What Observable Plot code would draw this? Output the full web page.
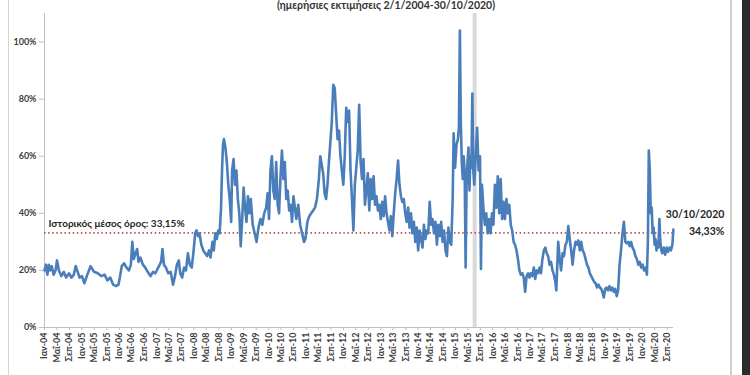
<!DOCTYPE html>
<html>
<head>
<meta charset="utf-8">
<script src="https://cdn.jsdelivr.net/npm/d3@7"></script>
<script src="https://cdn.jsdelivr.net/npm/@observablehq/plot@0.6"></script>
<style>
  html, body { margin: 0; padding: 0; background: #fff; }
  body { width: 750px; height: 375px; overflow: hidden; position: relative; font-family: Lato, "Open Sans", sans-serif; }
  #title { position: absolute; top: -1px; left: 11px; width: 750px; text-align: center; font-size: 10.5px; line-height: 12px; font-weight: bold; color: #333; }
  #chart { position: absolute; top: 0; left: 0; }
  .edge-l { position: absolute; left: 8px; top: 0; width: 1px; height: 375px; background: #d4d4d4; }
  .edge-r { position: absolute; left: 730px; top: 0; width: 2px; height: 375px; background: #cfcfcf; }
  .edge-dark { position: absolute; left: 742px; top: 0; width: 8px; height: 375px; background: #2b2b2b; }
</style>
</head>
<body>
<div id="title">(ημερήσιες εκτιμήσεις 2/1/2004-30/10/2020)</div>
<div id="chart"></div>
<div class="edge-l"></div><div class="edge-r"></div><div class="edge-dark"></div>
<script>
// decimal-year time stamps and daily volatility estimates (%)
const years = [
2004.000,2004.039,2004.077,2004.116,2004.154,2004.193,2004.244,2004.295,2004.334,2004.385,2004.449,2004.513,2004.578,2004.655,2004.719,2004.783,2004.834,2004.886,2004.937,
2005.001,2005.065,2005.130,2005.232,2005.322,2005.425,2005.515,2005.605,2005.682,2005.759,2005.836,2005.913,2005.977,
2006.015,2006.067,2006.131,2006.195,2006.259,2006.311,2006.349,2006.388,2006.439,2006.478,2006.516,2006.567,2006.632,2006.696,2006.760,2006.837,2006.901,2006.965,
2007.042,2007.119,2007.158,2007.196,2007.248,2007.312,2007.376,2007.440,2007.492,2007.543,2007.594,2007.633,2007.684,2007.736,2007.787,2007.838,2007.890,2007.941,2007.992,
2008.031,2008.069,2008.108,2008.146,2008.198,2008.249,2008.300,2008.352,2008.403,2008.442,2008.493,2008.531,2008.570,2008.609,2008.647,2008.686,2008.724,2008.750,2008.776,2008.801,2008.840,2008.878,2008.917,2008.955,2008.994,
2009.019,2009.058,2009.096,2009.135,2009.173,2009.212,2009.250,2009.289,2009.327,2009.366,2009.404,2009.443,2009.481,2009.520,2009.571,2009.623,2009.674,2009.725,2009.777,2009.828,2009.879,2009.931,2009.969,
2010.008,2010.046,2010.085,2010.123,2010.162,2010.200,2010.239,2010.277,2010.316,2010.354,2010.393,2010.431,2010.470,2010.508,2010.547,2010.585,2010.624,2010.662,2010.701,2010.739,2010.791,2010.842,2010.893,2010.945,2010.983,
2011.035,2011.086,2011.137,2011.189,2011.240,2011.291,2011.343,2011.381,2011.420,2011.458,2011.497,2011.535,2011.574,2011.612,2011.651,2011.689,2011.728,2011.767,2011.805,2011.844,2011.882,2011.921,2011.959,2011.998,
2012.036,2012.075,2012.113,2012.152,2012.190,2012.229,2012.267,2012.306,2012.344,2012.383,2012.421,2012.460,2012.498,2012.537,2012.575,2012.614,2012.652,2012.691,2012.729,2012.768,2012.806,2012.845,2012.883,2012.922,2012.960,2012.999,
2013.037,2013.076,2013.114,2013.153,2013.191,2013.230,2013.268,2013.307,2013.345,2013.384,2013.422,2013.461,2013.499,2013.538,2013.576,2013.615,2013.654,2013.692,2013.731,2013.769,2013.808,2013.846,2013.885,2013.923,2013.962,
2014.000,2014.039,2014.077,2014.116,2014.154,2014.193,2014.231,2014.270,2014.308,2014.347,2014.385,2014.424,2014.462,2014.501,2014.539,2014.578,2014.616,2014.655,2014.693,2014.732,2014.770,2014.809,2014.847,2014.886,2014.924,2014.950,2014.988,
2015.027,2015.065,2015.091,2015.117,2015.142,2015.168,2015.194,2015.219,2015.245,2015.271,2015.296,2015.322,2015.348,2015.374,2015.399,2015.425,2015.451,2015.476,2015.502,2015.579,2015.618,2015.656,2015.682,2015.708,2015.746,2015.785,2015.823,2015.862,2015.900,2015.939,2015.977,
2016.016,2016.054,2016.093,2016.131,2016.170,2016.208,2016.247,2016.285,2016.324,2016.362,2016.401,2016.439,2016.478,2016.516,2016.555,2016.593,2016.632,2016.670,2016.709,2016.747,2016.786,2016.824,2016.863,2016.901,2016.940,2016.978,
2017.017,2017.055,2017.094,2017.132,2017.171,2017.209,2017.248,2017.286,2017.325,2017.363,2017.402,2017.440,2017.479,2017.517,2017.556,2017.594,2017.633,2017.671,2017.697,2017.723,2017.748,2017.787,2017.825,2017.864,2017.902,2017.941,2017.979,
2018.018,2018.056,2018.095,2018.133,2018.172,2018.210,2018.249,2018.287,2018.326,2018.364,2018.403,2018.441,2018.480,2018.518,2018.557,2018.595,2018.634,2018.672,2018.711,2018.749,2018.788,2018.826,2018.865,2018.903,2018.942,2018.968,
2019.006,2019.045,2019.083,2019.122,2019.160,2019.199,2019.237,2019.276,2019.314,2019.353,2019.391,2019.430,2019.469,2019.507,2019.546,2019.584,2019.623,2019.661,2019.700,2019.738,2019.777,2019.815,2019.854,2019.892,2019.931,2019.969,
2020.008,2020.046,2020.085,2020.123,2020.149,2020.174,2020.200,2020.226,2020.251,2020.277,2020.303,2020.328,2020.354,2020.380,2020.405,2020.431,2020.457,2020.482,2020.508,2020.534,2020.572,2020.611,2020.650,2020.688,2020.727,2020.765,2020.804,2020.830
];
const vol = [
20,22,18.5,22,20,21.5,18.5,20,23.5,20,18,19.5,17.5,19,17.5,18.5,21.5,19.5,17.5,
18,15.5,18,21.5,19.5,19,18,18.5,16.5,17.5,15,14.5,15,
17.5,21.5,22.5,21,20,22,30,24,26,27.5,23,24.5,22,21,19.5,18,19.5,19,
21,23,27.5,22,21,19,19.5,15,18,22,23.5,19,17.5,21,20,26,22,21,27,
33,34,32,33,29,27,26,25,27,24.5,30,27,33,31,34,33,42,55,64,66,63,58,50,45,37,
55,59,50,55,45,40,28.5,38,49,42,37,46,40,45,36,33,30,35,38,36,40,42,47,
38,55,60,48,45,58,43,40,53,62,52,58,45,48,41,43,37,46,42,38,43,36,33,30,31,
37,39,40,41,42,45,52,60,57,54,47,45,50,58,65,72,85,84,75,66,69,60,55,50,
60,77,72,76,55,45,34,50,56,62,78,58,52,59,43,48,54,41,52,45,53,43,46,41,43,38,
44,39,46,40,37,34,39,32,40,47,52,58.5,50,46,44,45,40,37,42,35,40,33,37,30,35,
27,34,31,28,36,31,34,33,44,36,38,33,37,29,36,32,37,30,34,27,25,35,30,29,45,68,56,
64,66,70,104,72,58,52,60,55,21,50,58,63,48,60,56,82,55,50,70,55,60,20.5,50,42,36,40,33,38,33,40,
36,50,42,53,40,52,38,44,38,45,40,43,36,34,30,29,27,24,20,18.5,19,17.5,12.5,18,19,17.5,
19,18,21,17,20,19,21,19,24,27,28,26,25,22,23,20,18.5,16,13,22,30,24,20,26,25,29,30,
35.5,31,27,22,27,30,29,30.5,27,30,27,26,24,22,21,19,18,17,16,15.5,14,15,14,13.5,12,10.5,
13.5,14,13,14.5,13,14,12.5,13.5,11,13,22,27,33,37,30,29.5,30,28.5,30,28,27,25,24,22,23,21,
22,20,21,18.5,30,62,55,40,42,33,35,29,31,27,30,28,38,30,27,26,28,25.5,28,26.5,28,27,29,34.33
];
const averageValue = [33.15];
const averageLabel = "Ιστορικός μέσος όρος: 33,15%";
const lastLabelDate = "30/10/2020";
const lastLabelValue = "34,33%";
const closureMarker = [2015.513];   // stock exchange closure (summer 2015)
const monthNames = ["Ιαν","Φεβ","Μαρ","Απρ","Μαΐ","Ιουν","Ιουλ","Αυγ","Σεπ","Οκτ","Νοε","Δεκ"];
const yTicks = [0, 20, 40, 60, 80, 100];

function decToDate(y) {
  const yr = Math.floor(y);
  const s = Date.UTC(yr, 0, 1), e = Date.UTC(yr + 1, 0, 1);
  return new Date(s + (y - yr) * (e - s));
}
const data = years.map((y, i) => ({date: decToDate(y), v: vol[i] / 100}));
const xStart = new Date(Date.UTC(2004, 0, 1));
const xEnd = new Date(Date.UTC(2020, 10, 1));
const xTicks = d3.utcMonth.every(4).range(xStart, new Date(Date.UTC(2020, 9, 1)));
const last = data[data.length - 1];
const fmtX = d => monthNames[d.getUTCMonth()] + "-" + String(d.getUTCFullYear()).slice(2);

const chart = Plot.plot({
  width: 750,
  height: 375,
  marginLeft: 44,
  marginRight: 77,
  marginTop: 13,
  marginBottom: 48,
  style: {fontFamily: "Lato, 'Open Sans', sans-serif", background: "transparent", color: "#404040"},
  x: {type: "utc", domain: [xStart, xEnd]},
  y: {domain: [0, 1.1]},
  marks: [
    Plot.ruleX(closureMarker.map(decToDate), {stroke: "#d9d9d9", strokeWidth: 4}),
    Plot.ruleY([0], {stroke: "#bfbfbf"}),
    Plot.ruleX([xStart], {stroke: "#bfbfbf"}),
    Plot.axisY({ticks: yTicks.map(d => d / 100), tickFormat: d => Math.round(d * 100) + "%", tickSize: 5, tickPadding: 3,
      fontSize: 9, fontWeight: "bold", fill: "#404040", stroke: "#bfbfbf", label: null}),
    Plot.axisX({ticks: xTicks, tickFormat: fmtX, tickRotate: -90, tickSize: 3, tickPadding: 2,
      fontSize: 9, fontWeight: "bold", fill: "#404040", stroke: "#bfbfbf", label: null}),
    Plot.ruleY(averageValue.map(d => d / 100), {x1: xStart, x2: xEnd, stroke: "#c0504d", strokeWidth: 1.6, strokeDasharray: "1.5,2.6"}),
    Plot.line(data, {x: "date", y: "v", stroke: "#4a7ebb", strokeWidth: 2.6, strokeLinejoin: "round"}),
    Plot.text(averageValue, {x: () => xStart, y: d => d / 100, text: () => averageLabel, textAnchor: "start", dx: 4, dy: -9,
      fontSize: 10, fontWeight: "bold", fill: "#262626"}),
    Plot.text([last], {x: "date", y: "v", text: () => lastLabelDate, textAnchor: "end", dx: 51, dy: -15,
      fontSize: 10.5, fontWeight: "bold", fill: "#262626"}),
    Plot.text([last], {x: "date", y: "v", text: () => lastLabelValue, textAnchor: "end", dx: 51, dy: 2,
      fontSize: 10.5, fontWeight: "bold", fill: "#262626"})
  ]
});
document.getElementById("chart").appendChild(chart);
</script>
</body>
</html>
